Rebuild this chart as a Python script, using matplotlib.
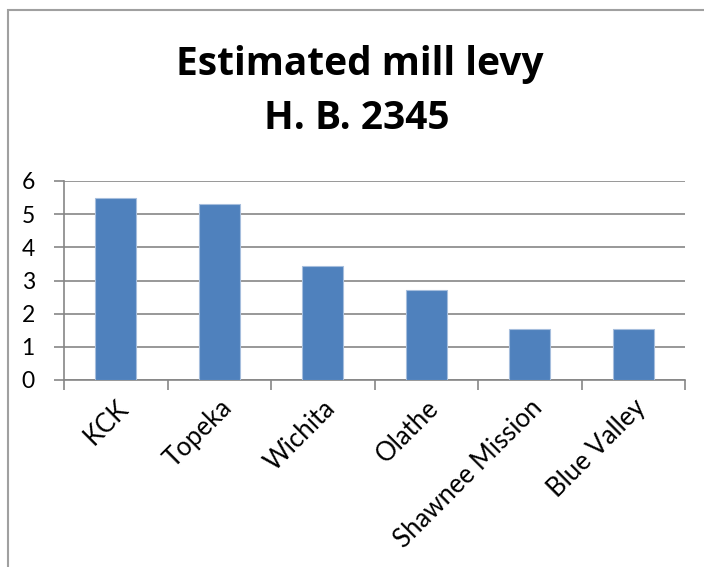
import matplotlib
matplotlib.use("Agg")
import matplotlib.pyplot as plt
from matplotlib.patches import Rectangle
from matplotlib.transforms import ScaledTranslation

categories = ["KCK", "Topeka", "Wichita", "Olathe", "Shawnee Mission", "Blue Valley"]
values = [5.5, 5.3, 3.45, 2.7, 1.55, 1.54]
title_lines = ["Estimated mill levy", "H. B. 2345"]
yticks = [0, 1, 2, 3, 4, 5, 6]

plt.rcParams['font.family'] = ['Lato', 'DejaVu Sans']

W, H = 704, 567
fig = plt.figure(figsize=(W / 100, H / 100), dpi=100)

# chart border (partially cropped)
fig.patches.append(Rectangle((8 / W, -0.1), 1.2, 1 - 10 / H + 0.1, transform=fig.transFigure,
                             fill=False, edgecolor="#A0A0A0", linewidth=1.5))

ax = fig.add_axes([64 / W, 1 - 380 / H, (685 - 64) / W, (380 - 181) / H])
x = list(range(len(categories)))
ax.bar(x, values, width=0.4, color="#4F81BD", edgecolor="#A6BEDD", linewidth=0.8, zorder=3)
ax.set_xlim(-0.5, len(categories) - 0.5)
ax.set_ylim(0, 6)
ax.set_yticks(yticks)
ax.set_yticklabels([str(t) for t in yticks], fontsize=16.5)
ax.yaxis.grid(True, color="#868686", linewidth=1.2, zorder=0)
ax.set_axisbelow(True)

ax.set_xticks([i - 0.5 for i in range(len(categories) + 1)], minor=False)
ax.set_xticklabels([])
ax.set_xticks(x, minor=True)
ax.set_xticklabels(categories, minor=True, rotation=45, ha="right", va="top",
                   rotation_mode="anchor", fontsize=18.5)
offset = ScaledTranslation(5 / 72, 0, fig.dpi_scale_trans)
for lab in ax.get_xticklabels(minor=True):
    lab.set_transform(lab.get_transform() + offset)
ax.tick_params(axis="x", which="minor", length=0, pad=11)
ax.tick_params(axis="x", which="major", length=7, color="#868686", width=1.2)
ax.tick_params(axis="y", length=7, color="#868686", width=1.2, pad=14)

for s in ["top", "right"]:
    ax.spines[s].set_visible(False)
for s in ["left", "bottom"]:
    ax.spines[s].set_color("#868686")
    ax.spines[s].set_linewidth(1.2)

fig.text(360 / W, 1 - 75 / H, title_lines[0], ha="center", va="baseline", fontsize=28,
         fontweight="bold", family=["Open Sans", "DejaVu Sans"])
fig.text(357 / W, 1 - 129 / H, title_lines[1], ha="center", va="baseline", fontsize=28,
         fontweight="bold", family=["Open Sans", "DejaVu Sans"])

fig.savefig("out.png", dpi=100)
